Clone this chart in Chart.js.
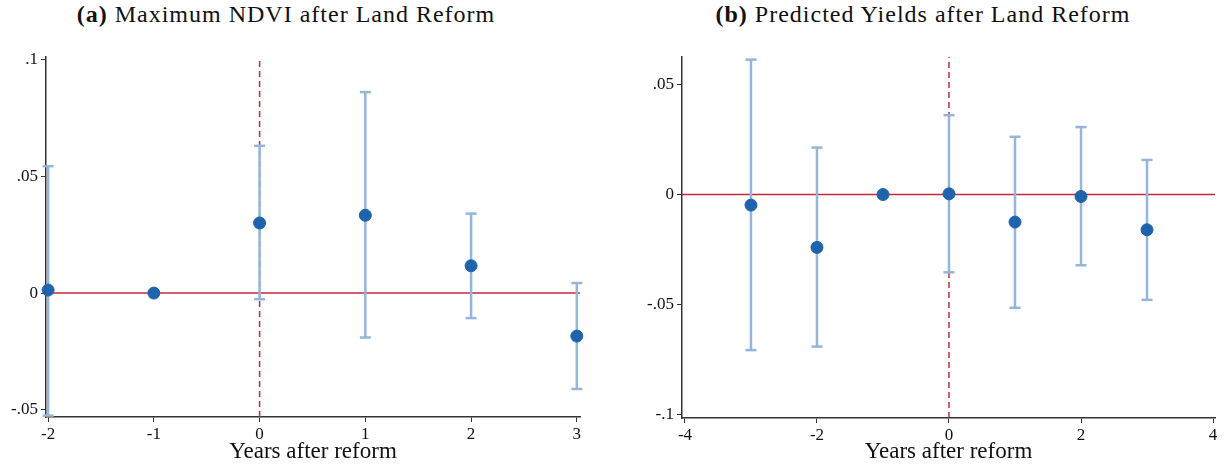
<!DOCTYPE html>
<html>
<head>
<meta charset="utf-8">
<script src="https://cdn.jsdelivr.net/npm/chart.js@4"></script>
<style>
  body { margin: 0; background: #fff; }
  #wrap { position: relative; width: 1227px; height: 470px; font-family: "Liberation Serif", serif; color: #111; }
  .panel { position: absolute; top: 0; height: 470px; }
  .ttl { position: absolute; top: 1px; font-size: 24px; letter-spacing: 1px; white-space: nowrap; transform: translateX(-50%); }
</style>
</head>
<body>
<div id="wrap">
  <div class="ttl" style="left:286px"><b>(a)</b> Maximum NDVI after Land Reform</div>
  <div class="ttl" style="left:923px"><b>(b)</b> Predicted Yields after Land Reform</div>
  <div class="panel" style="left:0;width:600px"><canvas id="chartA"></canvas></div>
  <div class="panel" style="left:600px;width:627px"><canvas id="chartB"></canvas></div>
</div>
<script>
// (a) Maximum NDVI
const yearsA = [-2, -1, 0, 1, 2, 3];
const coefA = [0.0013, 0, 0.0300, 0.0333, 0.0117, -0.0184];
const loA = [-0.0524, null, -0.0026, -0.0190, -0.0107, -0.0410];
const hiA = [0.0543, null, 0.0630, 0.0860, 0.0340, 0.0043];
const xTicksA = [-2, -1, 0, 1, 2, 3];
const yTicksA = [-0.05, 0, 0.05, 0.1];

// (b) Predicted yields
const yearsB = [-3, -2, -1, 0, 1, 2, 3];
const coefB = [-0.0048, -0.0240, 0, 0.0003, -0.0125, -0.0009, -0.0160];
const loB = [-0.0706, -0.0690, null, -0.0353, -0.0514, -0.0321, -0.0478];
const hiB = [0.0612, 0.0213, null, 0.0360, 0.0262, 0.0306, 0.0157];
const xTicksB = [-4, -2, 0, 2, 4];
const yTicksB = [-0.1, -0.05, 0, 0.05];

const red = '#c4283f';
const ciBlue = '#95b5da';
const dotBlue = '#1f63ad';
const axisCol = '#333';
const serif = "'Liberation Serif', serif";

function fmt(v) {
  if (v === 0) return '0';
  return (v < 0 ? '-' : '') + String(Math.abs(v)).replace(/^0/, '');
}

function makeChart(id, years, coef, lo, hi, xTicks, yTicks, xr, yr, box) {
  // confidence intervals: one segment per year, gaps between them
  const ci = [];
  years.forEach((yr0, i) => {
    if (lo[i] === null) return;
    ci.push({ x: yr0, y: lo[i] }, { x: yr0, y: hi[i] }, { x: yr0, y: null });
  });

  new Chart(document.getElementById(id), {
    type: 'scatter',
    data: {
      datasets: [
        {
          data: years.map((x, i) => ({ x: x, y: coef[i] })),
          backgroundColor: dotBlue,
          borderColor: dotBlue,
          pointRadius: 6,
          order: 0,
          clip: false
        },
        {
          data: ci,
          showLine: true,
          spanGaps: false,
          borderColor: ciBlue,
          borderWidth: 2.5,
          pointStyle: 'line',
          pointRadius: 5.5,
          pointBorderWidth: 2.5,
          pointBorderColor: ciBlue,
          order: 1,
          clip: false
        },
        {
          data: [{ x: xr[0], y: 0 }, { x: xr[1], y: 0 }],
          showLine: true,
          borderColor: red,
          borderWidth: 1.5,
          pointRadius: 0,
          order: 2
        },
        {
          data: [{ x: 0, y: yr[0] }, { x: 0, y: yr[1] }],
          showLine: true,
          borderColor: red,
          borderWidth: 1.5,
          borderDash: [6, 4],
          pointRadius: 0,
          order: 3
        }
      ]
    },
    options: {
      responsive: false,
      animation: false,
      layout: { padding: { top: box.top, right: box.right, left: 0, bottom: 0 } },
      plugins: { legend: { display: false }, tooltip: { enabled: false } },
      scales: {
        x: {
          type: 'linear',
          min: xr[0], max: xr[1],
          afterBuildTicks: s => { s.ticks = xTicks.map(v => ({ value: v })); },
          afterFit: s => { s.height = box.xh; },
          grid: { drawOnChartArea: false, drawTicks: true, tickLength: 5, color: axisCol },
          border: { display: true, color: axisCol, width: 1.5 },
          ticks: { color: '#111', padding: 2, font: { family: serif, size: 17 }, callback: v => fmt(v) },
          title: { display: true, text: 'Years after reform', color: '#111', padding: { top: 0, bottom: 4 },
                   font: { family: serif, size: 23 } }
        },
        y: {
          min: yr[0], max: yr[1],
          afterBuildTicks: s => { s.ticks = yTicks.map(v => ({ value: v })); },
          afterFit: s => { s.width = box.yw; },
          grid: { drawOnChartArea: false, drawTicks: true, tickLength: 5, color: axisCol },
          border: { display: true, color: axisCol, width: 1.5 },
          ticks: { color: '#111', padding: 3, font: { family: serif, size: 17 }, callback: v => fmt(v) }
        }
      }
    }
  });
}

document.getElementById('chartA').width = 600;
document.getElementById('chartA').height = 470;
document.getElementById('chartB').width = 627;
document.getElementById('chartB').height = 470;

makeChart('chartA', yearsA, coefA, loA, hiA, xTicksA, yTicksA, [-2.02, 3.03], [-0.053, 0.101],
  { top: 57, right: 20, xh: 53, yw: 46 });
makeChart('chartB', yearsB, coefB, loB, hiB, xTicksB, yTicksB, [-4.045, 4.03], [-0.1014, 0.0624],
  { top: 57, right: 12, xh: 52, yw: 82 });
</script>
</body>
</html>
